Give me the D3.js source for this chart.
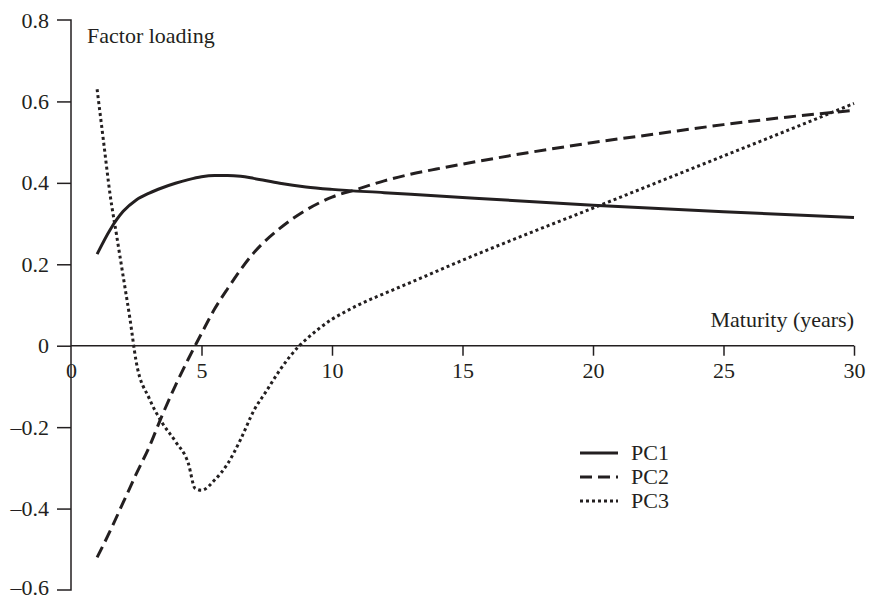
<!DOCTYPE html>
<html><head><meta charset="utf-8">
<script src="https://cdn.jsdelivr.net/npm/d3@7"></script>
<style>body{margin:0;background:#fff}svg{display:block}</style>
</head><body>
<svg id="c" width="870" height="599"></svg>
<script>
const pc1X = [1,1.5,2,2.5,3,3.5,4,4.5,5,5.5,6,6.5,7,8,9,10,12,15,20,25,30];
const pc1Y = [0.225,0.285,0.33,0.358,0.375,0.388,0.399,0.408,0.415,0.418,0.418,0.416,0.411,0.399,0.39,0.384,0.376,0.364,0.345,0.329,0.315];
const pc2X = [1,1.5,2,2.5,3,3.5,4,4.5,5,5.5,6,7,8,9,10,11,12,13,14,15,17.5,20,22.5,25,27.5,30];
const pc2Y = [-0.52,-0.455,-0.385,-0.315,-0.248,-0.17,-0.098,-0.032,0.03,0.09,0.14,0.228,0.288,0.333,0.365,0.385,0.405,0.421,0.434,0.446,0.474,0.499,0.521,0.543,0.562,0.578];
const pc3X = [1,1.25,1.5,1.75,2,2.25,2.5,3,3.5,4,4.5,4.75,5,5.5,6,6.5,7,7.5,8,8.75,9,9.5,10,10.5,11,12,13,15,17.5,20,22.5,25,27.5,30];
const pc3Y = [0.63,0.5,0.37,0.27,0.17,0.07,-0.04,-0.13,-0.19,-0.235,-0.29,-0.35,-0.355,-0.33,-0.29,-0.23,-0.16,-0.11,-0.06,0.0,0.015,0.042,0.065,0.083,0.1,0.128,0.155,0.21,0.275,0.338,0.402,0.466,0.53,0.595];
const seriesNames = ["PC1","PC2","PC3"];
const xTicks = [0,5,10,15,20,25,30];
const yTicks = [-0.6,-0.4,-0.2,0,0.2,0.4,0.6,0.8];
const yTickLabels = ["–0.6","–0.4","–0.2","0","0.2","0.4","0.6","0.8"];
const xTitle = "Maturity (years)";
const yTitle = "Factor loading";

const ink = "#231f20";
const font = "'Liberation Serif','Times New Roman',serif";
const fs = "22px";
const svg = d3.select("#c");
const x = d3.scaleLinear().domain([0,30]).range([71,854]);
const y = d3.scaleLinear().domain([-0.6,0.8]).range([590,20]);

// y axis
const ya = svg.append("g").attr("transform",`translate(${x(0)},0)`)
  .call(d3.axisLeft(y).tickValues(yTicks).tickSize(14).tickPadding(8)
    .tickFormat((d,i)=>yTickLabels[i]));
ya.select(".domain").attr("stroke",ink).attr("stroke-width",1.5).attr("d",`M-14,${y(0.8)}H0V${y(-0.6)}H-14`);
ya.selectAll(".tick line").attr("stroke",ink).attr("stroke-width",1.5);
ya.selectAll(".tick text").attr("fill",ink).style("font-family",font).style("font-size",fs);
ya.selectAll(".tick").filter(d=>d===0.8||d===-0.6).select("line").remove();
ya.selectAll(".tick").filter(d=>d===-0.6).select("text").attr("dy","0.2em");

// x axis
const xa = svg.append("g").attr("transform",`translate(0,${y(0)})`)
  .call(d3.axisBottom(x).tickValues(xTicks).tickSize(10).tickPadding(7));
xa.select(".domain").attr("stroke",ink).attr("stroke-width",1.5).attr("d",`M${x(0)},0H${x(30)}`);
xa.selectAll(".tick line").attr("stroke",ink).attr("stroke-width",1.5);
xa.selectAll(".tick").filter(d=>d===0).select("line").remove();
xa.selectAll(".tick text").attr("fill",ink).style("font-family",font).style("font-size",fs);

svg.append("text").attr("x",87).attr("y",43).text(yTitle)
  .attr("fill",ink).style("font-family",font).style("font-size",fs);
svg.append("text").attr("x",854).attr("y",327).attr("text-anchor","end").text(xTitle)
  .attr("fill",ink).style("font-family",font).style("font-size",fs);

const dashes = [null,"12,6","3,3"];
const series = [[pc1X,pc1Y],[pc2X,pc2Y],[pc3X,pc3Y]];
const line = d3.line().x(d=>x(d[0])).y(d=>y(d[1])).curve(d3.curveMonotoneX);
series.forEach((s,i)=>{
  const pts = s[0].map((v,j)=>[v,s[1][j]]);
  svg.append("path").datum(pts).attr("d",line).attr("fill","none")
    .attr("stroke",ink).attr("stroke-width",3).attr("stroke-dasharray",dashes[i]);
});

// legend
const lg = svg.append("g");
seriesNames.forEach((n,i)=>{
  const yy = 453 + i*24;
  lg.append("line").attr("x1",580).attr("x2",618).attr("y1",yy).attr("y2",yy)
    .attr("stroke",ink).attr("stroke-width",3).attr("stroke-dasharray",dashes[i]);
  lg.append("text").attr("x",631).attr("y",yy+7).text(n)
    .attr("fill",ink).style("font-family",font).style("font-size",fs);
});
</script>
</body></html>
